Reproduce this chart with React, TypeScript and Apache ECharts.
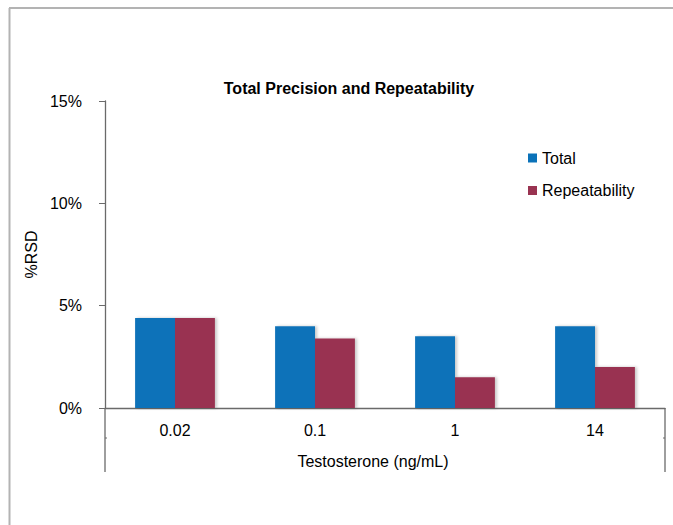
import React, { useEffect, useRef } from "react";
import * as echarts from "echarts";

const categories = ["0.02", "0.1", "1", "14"];
const totalValues = [4.4, 4.0, 3.5, 4.0];
const repeatabilityValues = [4.4, 3.4, 1.5, 2.0];
const yTicks = { min: 0, max: 15, interval: 5 };

const FONT = "'Liberation Sans', Arial, sans-serif";
const FS = 16;
const BLUE = "#0A72B9";
const RED = "#993351";
const AXIS = "#6a6a6a";

export default function App() {
  const ref = useRef<HTMLDivElement>(null);

  useEffect(() => {
    if (!ref.current) return;
    const chart = echarts.init(ref.current, null, { renderer: "svg" });
    const barShadow = {
      shadowColor: "rgba(0,0,0,0.22)",
      shadowBlur: 3,
      shadowOffsetX: 2,
      shadowOffsetY: 0,
    };
    chart.setOption({
      animation: false,
      backgroundColor: "#ffffff",
      textStyle: { fontFamily: FONT, color: "#000" },
      title: {
        text: "Total Precision and Repeatability",
        left: 344,
        top: 75,
        textAlign: "center",
        textStyle: { fontFamily: FONT, fontSize: FS, fontWeight: "bold", color: "#000" },
      },
      legend: {
        orient: "vertical",
        left: 523,
        top: 144,
        itemWidth: 9,
        itemHeight: 9,
        itemGap: 14.5,
        icon: "rect",
        textStyle: { fontFamily: FONT, fontSize: FS, color: "#000", lineHeight: 18 },
        data: ["Total", "Repeatability"],
      },
      grid: { left: 105, right: 8, top: 101, bottom: 117, containLabel: false },
      xAxis: {
        type: "category",
        data: categories,
        axisLine: { lineStyle: { color: AXIS, width: 1.3 } },
        axisTick: { show: false },
        axisLabel: { fontFamily: FONT, fontSize: FS, color: "#000", margin: 14 },
        name: "Testosterone (ng/mL)",
        nameLocation: "middle",
        nameGap: 45,
        nameTextStyle: { fontFamily: FONT, fontSize: FS, color: "#000", padding: [0, 24, 0, 0] },
      },
      yAxis: {
        type: "value",
        min: yTicks.min,
        max: yTicks.max,
        interval: yTicks.interval,
        axisLine: { show: true, lineStyle: { color: AXIS, width: 1.3 } },
        axisTick: { show: true, length: 6, lineStyle: { color: AXIS } },
        axisLabel: { fontFamily: FONT, fontSize: FS, color: "#000", margin: 23, formatter: "{value}%" },
        splitLine: { show: false },
        name: "%RSD",
        nameLocation: "middle",
        nameGap: 59,
        nameTextStyle: { fontFamily: FONT, fontSize: FS, color: "#000" },
      },
      series: [
        {
          name: "Total",
          type: "bar",
          data: totalValues,
          barGap: "0%",
          barCategoryGap: "43%",
          itemStyle: { color: BLUE, ...barShadow },
        },
        {
          name: "Repeatability",
          type: "bar",
          data: repeatabilityValues,
          itemStyle: { color: RED, ...barShadow },
        },
      ],
      graphic: [
        // frame around the chart area
        { type: "line", shape: { x1: 9, y1: 8, x2: 673, y2: 8 }, style: { stroke: "#b3b3b3", lineWidth: 2 } },
        { type: "line", shape: { x1: 9.5, y1: 8, x2: 9.5, y2: 525 }, style: { stroke: "#b3b3b3", lineWidth: 2 } },
        // category band borders below the axis
        { type: "line", shape: { x1: 105, y1: 408, x2: 105, y2: 472 }, style: { stroke: AXIS, lineWidth: 1.3 } },
        { type: "line", shape: { x1: 665, y1: 408, x2: 665, y2: 472 }, style: { stroke: AXIS, lineWidth: 1.3 } },
        { type: "line", shape: { x1: 105, y1: 438, x2: 107, y2: 438 }, style: { stroke: AXIS, lineWidth: 1 } },
        { type: "line", shape: { x1: 663, y1: 438, x2: 665, y2: 438 }, style: { stroke: AXIS, lineWidth: 1 } },
      ],
    });
    return () => chart.dispose();
  }, []);

  return (
    <div
      ref={ref}
      style={{ position: "fixed", left: 0, top: 0, width: 673, height: 525, background: "#fff" }}
    />
  );
}
